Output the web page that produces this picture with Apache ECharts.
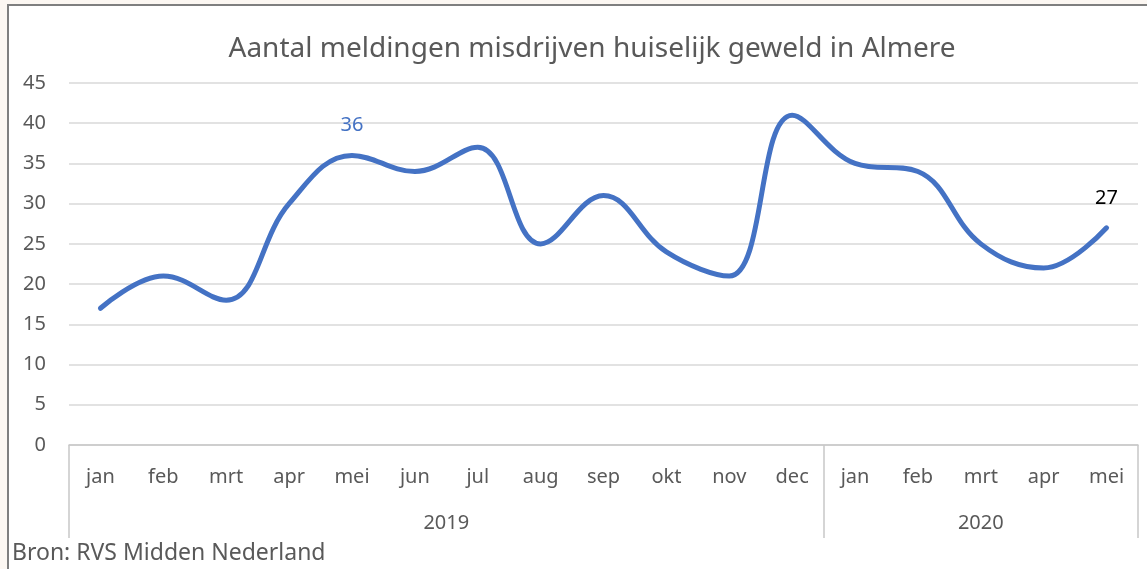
<!DOCTYPE html>
<html>
<head>
<meta charset="utf-8">
<script src="https://cdn.jsdelivr.net/npm/echarts@6/dist/echarts.min.js"></script>
<style>
  body { margin: 0; background: #fcf7f2; }
  #frame {
    position: absolute; left: 7px; top: 4px; width: 1200px; height: 600px;
    background: #ffffff; border: 2px solid #7f7f7f;
  }
  #chart { position: absolute; left: 0; top: 0; width: 1147px; height: 569px; }
</style>
</head>
<body>
<div id="frame"></div>
<div id="chart"></div>
<script>
var months = ["jan", "feb", "mrt", "apr", "mei", "jun", "jul", "aug", "sep", "okt", "nov", "dec",
              "jan", "feb", "mrt", "apr", "mei"];
var meldingen = [17, 21, 18, 30, 36, 34, 37, 25, 31, 24, 21, 41, 35, 34, 25, 22, 27];
var years = ["2019", "2020"];
var yearStart = [0, 12];
var yearEnd = [12, 17];
var labelled = [4, 16];
var labelColors = ["#4472c4", "#000000"];

var myChart = echarts.init(document.getElementById("chart"));

var seriesData = meldingen.map(function (v, i) {
  var k = labelled.indexOf(i);
  if (k < 0) return v;
  return {
    value: v,
    label: { show: true, position: "top", distance: 20, color: labelColors[k], fontSize: 20 }
  };
});

var option = {
  backgroundColor: "transparent",
  textStyle: { fontFamily: "Noto Sans" },
  title: {
    text: "Aantal meldingen misdrijven huiselijk geweld in Almere",
    left: 587,
    textAlign: "center",
    top: 30,
    textStyle: { fontSize: 28, fontWeight: "normal", color: "#595959", fontFamily: "Noto Sans" }
  },
  grid: { left: 69, right: 9, top: 83, bottom: 124 },
  xAxis: [
    {
      type: "category",
      data: months,
      axisLine: { lineStyle: { color: "#c8c8c8", width: 1.5 } },
      axisTick: { show: false },
      axisLabel: { color: "#595959", fontSize: 20, margin: 22 }
    },
    {
      type: "value",
      position: "bottom",
      min: 0,
      max: months.length,
      axisLine: { show: false },
      splitLine: { show: false },
      axisTick: {
        show: true,
        customValues: yearStart.concat([yearEnd[yearEnd.length - 1]]),
        length: 93,
        lineStyle: { color: "#c8c8c8", width: 1.5 }
      },
      axisLabel: {
        customValues: yearStart.map(function (s, i) { return (s + yearEnd[i]) / 2; }),
        formatter: function (v) {
          for (var i = 0; i < years.length; i++) {
            if (v > yearStart[i] && v < yearEnd[i]) return years[i];
          }
          return "";
        },
        color: "#595959",
        fontSize: 20,
        margin: 68
      }
    }
  ],
  yAxis: {
    type: "value",
    min: 0,
    max: 45,
    interval: 5,
    axisLine: { show: false },
    axisTick: { show: false },
    splitLine: { lineStyle: { color: "#d9d9d9", width: 1.5 } },
    axisLabel: { color: "#595959", fontSize: 20, margin: 23 }
  },
  graphic: [
    {
      type: "text",
      left: 12,
      top: 542,
      style: { text: "Bron: RVS Midden Nederland", fontSize: 23, fill: "#595959", fontFamily: "Noto Sans" }
    }
  ],
  series: [
    {
      type: "line",
      xAxisIndex: 0,
      data: seriesData,
      smooth: 0.4,
      symbol: "circle",
      symbolSize: 0,
      showSymbol: true,
      lineStyle: { color: "#4472c4", width: 5, cap: "round" },
      itemStyle: { color: "#4472c4" }
    }
  ]
};
myChart.setOption(option);
window.addEventListener("resize", function () {
  myChart.resize();
});
</script>
</body>
</html>
